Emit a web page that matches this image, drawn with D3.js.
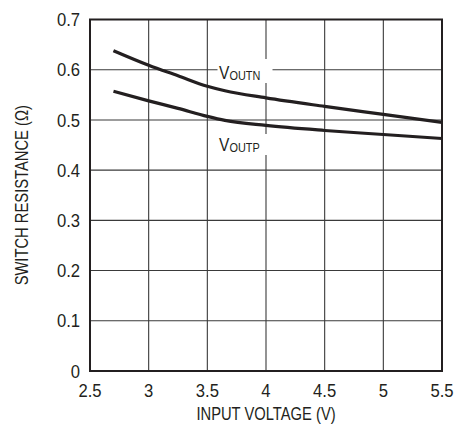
<!DOCTYPE html>
<html>
<head>
<meta charset="utf-8">
<script src="https://cdn.jsdelivr.net/npm/d3@7"></script>
<style>
  html, body { margin: 0; padding: 0; background: #fff; }
  text { font-family: "Liberation Sans", Arial, sans-serif; fill: #231f20; }
</style>
</head>
<body>
<svg id="chart" width="454" height="427"></svg>
<script>
const inputVoltage = [2.7, 3.0, 3.25, 3.5, 3.65, 4.0, 4.5, 5.0, 5.5];
const voutN = [0.638, 0.609, 0.588, 0.567, 0.558, 0.544, 0.527, 0.511, 0.495];
const voutP = [0.557, 0.538, 0.523, 0.507, 0.499, 0.489, 0.479, 0.471, 0.463];
const xTicks = [2.5, 3, 3.5, 4, 4.5, 5, 5.5];
const yTicks = [0, 0.1, 0.2, 0.3, 0.4, 0.5, 0.6, 0.7];
const xTitle = "INPUT VOLTAGE (V)";
const yTitle = "SWITCH RESISTANCE (\u03A9)";

const W = 454, H = 427;
const m = { left: 90, top: 19.5, right: 12, bottom: 56 };
const svg = d3.select("#chart");
const ink = "#231f20";

const x = d3.scaleLinear().domain([2.5, 5.5]).range([m.left, W - m.right]);
const y = d3.scaleLinear().domain([0, 0.7]).range([H - m.bottom, m.top]);

// grid
const grid = svg.append("g");
grid.selectAll("line.v").data(xTicks.slice(1, -1)).enter().append("line")
  .attr("x1", d => x(d)).attr("x2", d => x(d))
  .attr("y1", y(0)).attr("y2", y(0.7))
  .attr("stroke", "#3a3a3a").attr("stroke-width", 1.1);
grid.selectAll("line.h").data(yTicks.slice(1, -1)).enter().append("line")
  .attr("x1", x(2.5)).attr("x2", x(5.5))
  .attr("y1", d => y(d)).attr("y2", d => y(d))
  .attr("stroke", "#3a3a3a").attr("stroke-width", 1.1);

// frame
svg.append("rect")
  .attr("x", x(2.5)).attr("y", y(0.7))
  .attr("width", x(5.5) - x(2.5)).attr("height", y(0) - y(0.7))
  .attr("fill", "none").attr("stroke", ink).attr("stroke-width", 2);

// curves
const line = d3.line().curve(d3.curveMonotoneX);
[voutN, voutP].forEach(s => {
  svg.append("path")
    .attr("d", line(inputVoltage.map((v, i) => [x(v), y(s[i])])))
    .attr("fill", "none").attr("stroke", ink).attr("stroke-width", 3.2);
});

// narrow text helper
function ntext(g, px, py, anchor, size, sx, rot) {
  return g.append("text")
    .attr("transform", `translate(${px},${py})${rot ? " rotate(" + rot + ")" : ""} scale(${sx},1)`)
    .attr("text-anchor", anchor).style("font-size", size + "px");
}

// series labels with white background
function label(xv, yv, sub, bg) {
  svg.append("rect").attr("x", bg[0]).attr("y", bg[1]).attr("width", bg[2]).attr("height", bg[3]).attr("fill", "#fff");
  const t = ntext(svg, x(xv), y(yv), "start", 18.5, 0.84);
  t.append("tspan").text("V");
  t.append("tspan").text(sub).attr("dy", 1).style("font-size", "13px");
}
label(3.6, 0.5806, "OUTN", [217.5, 59, 55, 24]);
label(3.6, 0.4376, "OUTP", [217.5, 134, 52, 21]);

// tick labels
yTicks.forEach(d => {
  ntext(svg, m.left - 10, y(d) + 6.7, "end", 18.5, 0.9).text(d === 0 ? "0" : d3.format(".1f")(d));
});
xTicks.forEach(d => {
  ntext(svg, x(d), 396.5, "middle", 18.5, 0.9).text(String(d));
});

ntext(svg, (x(2.5) + x(5.5)) / 2, 420, "middle", 18, 0.82).text(xTitle);
ntext(svg, 28, (y(0) + y(0.7)) / 2, "middle", 18, 0.82, -90).text(yTitle);
</script>
</body>
</html>
